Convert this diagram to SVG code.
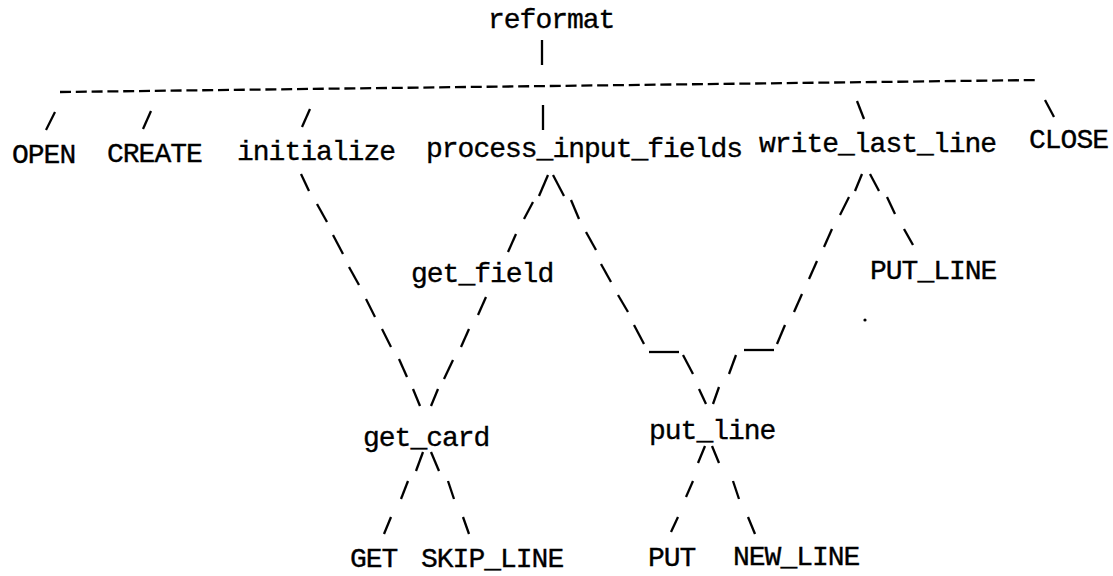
<svg xmlns="http://www.w3.org/2000/svg" width="1113" height="576" viewBox="0 0 1113 576">
<style>
text{font-family:"Liberation Mono","Courier New",monospace;font-size:28px;letter-spacing:-1px;fill:#000;stroke:#000;stroke-width:0.35}
.c line{stroke:#000;stroke-width:2.3;stroke-linecap:butt}
.dash{stroke:#000;stroke-width:2.6;stroke-dasharray:11 4.8;fill:none}
</style>
<rect width="1113" height="576" fill="#fff"/>
<g id="connectors" class="c">
<line x1="542" y1="40" x2="542" y2="65"/>
<line class="dash" x1="60" y1="92" x2="1039" y2="80"/>
<line x1="543" y1="105" x2="543" y2="130"/>
<line x1="55" y1="112" x2="46" y2="130"/>
<line x1="151" y1="111" x2="143" y2="129"/>
<line x1="310" y1="109" x2="302" y2="127"/>
<line x1="857" y1="101" x2="864" y2="119"/>
<line x1="1045" y1="100" x2="1054" y2="117"/>
<!-- initialize -> get_card -->
<line x1="301" y1="174" x2="309" y2="191"/>
<line x1="317" y1="204" x2="327" y2="222"/>
<line x1="333" y1="235" x2="343" y2="254"/>
<line x1="349" y1="267" x2="359" y2="285"/>
<line x1="366" y1="299" x2="375" y2="317"/>
<line x1="382" y1="329" x2="391" y2="347"/>
<line x1="399" y1="359" x2="407" y2="377"/>
<line x1="413" y1="389" x2="420" y2="406"/>
<!-- process_input_fields -> get_field -->
<line x1="548" y1="175" x2="539" y2="196"/>
<line x1="533" y1="202" x2="524" y2="219"/>
<line x1="516" y1="234" x2="508" y2="252"/>
<!-- get_field -> get_card -->
<line x1="486" y1="297" x2="478" y2="315"/>
<line x1="469" y1="329" x2="461" y2="347"/>
<line x1="453" y1="360" x2="444" y2="379"/>
<line x1="438" y1="389" x2="431" y2="406"/>
<!-- process_input_fields -> put_line -->
<line x1="553" y1="175" x2="564" y2="196"/>
<line x1="571" y1="200" x2="579" y2="219"/>
<line x1="586" y1="232" x2="596" y2="250"/>
<line x1="601" y1="264" x2="611" y2="282"/>
<line x1="618" y1="295" x2="628" y2="312"/>
<line x1="634" y1="325" x2="644" y2="344"/>
<line x1="649" y1="352" x2="679" y2="352"/>
<line x1="683" y1="355" x2="693" y2="374"/>
<line x1="699" y1="389" x2="706" y2="404"/>
<!-- write_last_line -> put_line -->
<line x1="862" y1="174" x2="855" y2="191"/>
<line x1="849" y1="197" x2="840" y2="215"/>
<line x1="832" y1="229" x2="824" y2="247"/>
<line x1="817" y1="261" x2="809" y2="279"/>
<line x1="802" y1="294" x2="794" y2="312"/>
<line x1="785" y1="325" x2="777" y2="344"/>
<line x1="744" y1="350" x2="774" y2="350"/>
<line x1="736" y1="355" x2="729" y2="374"/>
<line x1="719" y1="387" x2="713" y2="404"/>
<!-- write_last_line -> PUT_LINE -->
<line x1="870" y1="174" x2="879" y2="191"/>
<line x1="887" y1="197" x2="895" y2="214"/>
<line x1="904" y1="229" x2="913" y2="245"/>
<!-- get_card -> GET / SKIP_LINE -->
<line x1="423" y1="452" x2="416" y2="471"/>
<line x1="408" y1="481" x2="401" y2="499"/>
<line x1="391" y1="517" x2="384" y2="534"/>
<line x1="431" y1="452" x2="439" y2="471"/>
<line x1="448" y1="481" x2="454" y2="499"/>
<line x1="463" y1="517" x2="469" y2="534"/>
<!-- put_line -> PUT / NEW_LINE -->
<line x1="705" y1="446" x2="698" y2="463"/>
<line x1="693" y1="481" x2="686" y2="497"/>
<line x1="678" y1="517" x2="671" y2="532"/>
<line x1="712" y1="446" x2="719" y2="463"/>
<line x1="733" y1="481" x2="739" y2="499"/>
<line x1="748" y1="517" x2="755" y2="534"/>
</g>
<g id="n-reformat"><text x="488" y="28">reformat</text></g>
<g id="n-open"><text x="12" y="163">OPEN</text></g>
<g id="n-create"><text x="107" y="162">CREATE</text></g>
<g id="n-initialize"><text x="237" y="160">initialize</text></g>
<g id="n-process"><text x="426" y="157">process_input_fields</text></g>
<g id="n-write"><text x="759" y="152">write_last_line</text></g>
<g id="n-close"><text x="1029" y="148">CLOSE</text></g>
<g id="n-get_field"><text x="411" y="282">get_field</text></g>
<g id="n-PUT_LINE"><text x="870" y="279">PUT_LINE</text></g>
<g id="n-get_card"><text x="363" y="446">get_card</text></g>
<g id="n-put_line"><text x="649" y="439">put_line</text></g>
<g id="n-GET"><text x="350" y="567">GET</text></g>
<g id="n-SKIP"><text x="421" y="567">SKIP_LINE</text></g>
<g id="n-PUT"><text x="648" y="566">PUT</text></g>
<g id="n-NEW"><text x="733" y="565">NEW_LINE</text></g>
<circle cx="865" cy="320" r="1.6" fill="#000"/>
</svg>
